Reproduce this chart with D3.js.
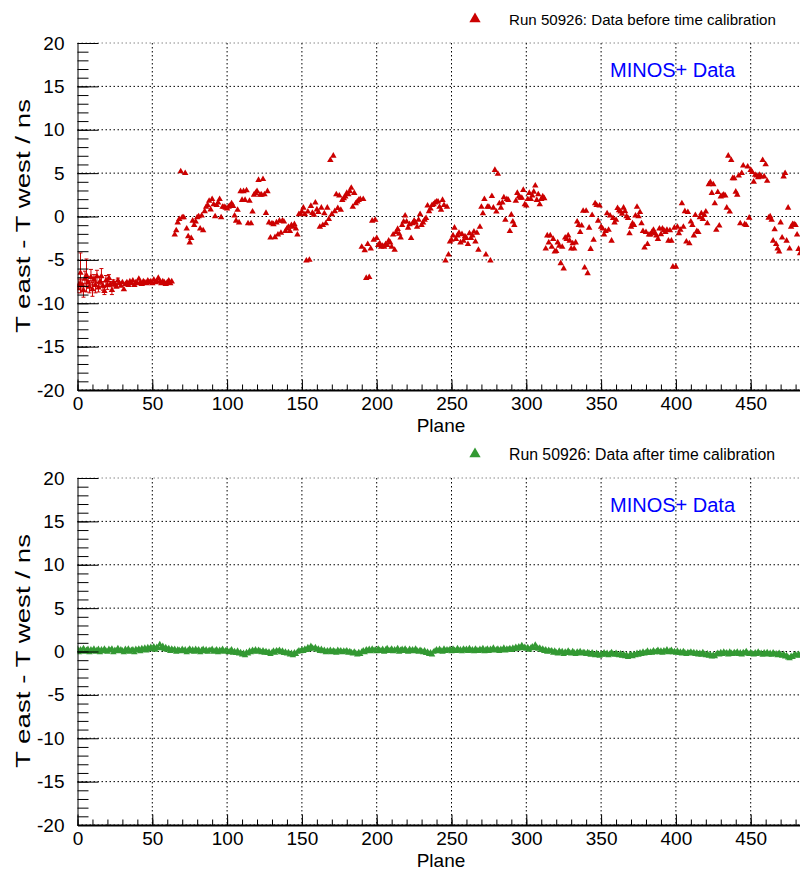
<!DOCTYPE html>
<html>
<head>
<meta charset="utf-8">
<script src="https://cdn.jsdelivr.net/npm/d3@7"></script>
<style>
  body { margin: 0; background: #fff; }
  svg { display: block; font-family: "Liberation Sans", Arial, Helvetica, sans-serif; }
</style>
</head>
<body>
<div id="chart"></div>
<script>
/* T east - T west per plane, run 50926 (index = plane number, null = no point) */
var beforeValues = [
  -8.3,-7.8,-6.5,-7.9,-8.5,-7.2,-6.8,-7.6,-8.1,-7.0,
  -8.4,-7.3,-7.9,-6.9,-8.2,-7.5,-6.9,-8.0,-8.6,-7.4,
  -7.9,-7.1,-7.8,-8.5,-7.6,-7.8,-8.1,-7.4,-7.7,-8.0,
  -7.6,-8.4,-7.8,-7.6,-7.9,-7.5,-7.7,-7.4,-7.9,-7.6,
  -7.7,-7.2,-7.6,-7.8,-7.5,-7.6,-7.7,-7.4,-7.6,-7.5,
  -7.7,-7.3,-7.6,-7.5,-7.1,-7.5,-7.7,-7.5,-7.6,-7.8,
  -7.6,-7.4,-7.7,-7.5,null,-2.1,-1.6,-0.7,-0.3,5.2,
  -0.1,-0.1,5.0,-1.4,-2.3,-3.0,-2.5,-0.5,-1.0,-0.6,
  -0.1,0.0,-1.4,0.1,-1.6,0.6,1.1,1.3,1.8,0.8,
  2.0,1.4,0.0,1.3,1.6,2.0,-0.1,1.1,1.1,1.0,
  0.9,1.1,1.25,1.5,1.2,0.1,-0.5,0.75,-0.7,2.9,
  1.9,2.9,1.9,3.0,-0.8,1.8,-0.8,0.55,2.5,2.7,
  2.9,4.2,2.5,2.5,4.3,2.55,0.4,2.9,-0.7,-2.45,
  -0.8,-0.9,-2.4,-0.7,-2.1,-0.5,-1.9,-0.5,-0.6,-1.7,
  -1.4,-1.2,-1.7,-1.0,-1.2,-0.9,-1.4,-2.1,0.25,0.3,
  0.55,1.0,0.25,-5.1,0.55,-5.0,1.2,0.4,0.2,1.6,
  0.8,0.5,-1.2,1.0,-1.0,0.35,-0.8,1.0,-0.3,6.5,
  0.25,7.0,0.6,2.55,0.95,2.4,0.75,1.9,2.1,2.3,
  2.7,2.55,2.9,3.3,1.1,2.7,1.5,1.7,1.9,2.0,
  -3.5,2.0,-3.9,-7.1,-3.2,-7.0,-3.7,-0.5,-2.7,-0.4,
  -2.5,-3.3,-3.1,-3.5,-3.4,-3.5,-3.2,-3.3,-2.8,-3.0,
  -3.5,-2.1,-3.85,-1.8,-1.45,-2.0,-2.45,-1.0,-0.6,0.1,
  -0.6,-1.3,-0.9,-2.5,-0.8,-0.5,-0.7,-1.2,-0.4,0.25,
  -1.0,-0.7,-0.4,-0.2,1.25,0.6,0.9,1.3,1.4,1.6,
  1.7,1.7,1.1,0.75,1.9,1.3,-5.1,1.1,-4.4,-2.9,
  -2.7,-2.2,-1.3,-2.6,-2.2,-1.9,-3.0,-2.05,-2.8,-2.3,
  -2.5,-3.2,-1.95,-2.5,-2.2,-1.75,-2.9,-1.9,-3.85,-1.2,
  1.1,0.35,2.0,-4.4,1.1,1.1,-5.1,2.35,1.0,5.35,
  0.55,4.9,1.5,1.0,1.6,2.2,-0.4,2.0,1.9,-1.7,
  0.2,-0.6,-1.0,1.8,2.7,2.3,2.15,2.15,3.05,1.4,
  1.25,2.0,2.7,2.0,2.4,2.85,3.55,1.9,2.55,1.4,
  2.0,2.3,2.1,-3.7,-2.2,-3.0,-2.2,-3.5,-2.6,-4.05,
  -4.0,-3.0,-3.4,-5.4,-3.5,-6.0,-2.45,-2.6,-2.2,-2.8,
  -3.7,-3.1,-3.7,-3.0,-0.6,-1.0,-1.8,-1.05,0.65,-5.9,
  0.65,-6.55,-1.3,-3.75,0.15,-2.7,1.5,1.3,-0.5,1.25,
  -1.2,-1.4,-2.1,-1.7,0.35,-1.55,0.1,-2.8,-0.2,-0.7,
  -0.4,0.95,0.7,0.55,0.3,1.0,0.6,0.0,-0.2,-1.95,
  -1.2,-0.8,-1.0,0.1,1.1,0.0,0.5,-0.8,-1.7,-3.6,
  -1.8,-3.2,-2.1,-2.1,-1.8,-1.55,-1.95,-2.2,-2.6,-1.4,
  -2.05,-1.4,-1.6,-1.8,-1.55,-2.8,-1.6,-2.8,-5.8,-1.3,
  -5.8,-1.2,-1.95,-1.55,1.5,-1.2,0.6,-2.9,0.5,-3.1,
  -0.6,-1.0,-2.2,0.15,-1.7,-1.8,-0.1,0.35,-0.3,0.15,
  0.55,-0.8,3.7,3.95,2.7,3.7,1.5,-1.55,2.8,-1.05,
  2.3,2.4,2.5,2.4,1.0,7.0,0.55,6.5,4.4,4.4,
  2.85,2.5,4.7,-0.8,5.0,5.85,-0.9,-1.0,5.75,-0.15,
  5.35,5.1,4.0,4.8,4.7,4.5,4.8,4.6,6.5,4.6,
  6.0,4.1,-0.15,0.0,-0.4,-2.8,-1.5,-3.2,-3.7,-4.05,
  -0.7,-2.45,4.6,5.0,-2.8,1.0,-3.7,-1.2,-0.9,-0.9,
  -1.0,-2.1,-3.75,-4.25
];
/* error bars, only the first planes have visible ones */
var beforeErrors = [
  0.5,0.6,2.3,0.7,0.8,0.9,1.9,0.6,0.7,0.9,
  0.8,0.6,0.9,0.7,0.5,0.6,0.9,0.5,0.4,0.6,
  0.5,0.4,0.3,0.5,0.3,0.3,0.2,0.3,0.2,0.2
];

var afterValues = [
  0.3,-0.1,0.2,0.05,0.35,-0.05,0.15,0.25,-0.1,0.2,
  0.05,0.3,-0.05,0.15,0.25,-0.1,0.2,0.0,0.3,0.1,
  -0.05,0.25,0.1,0.3,-0.1,0.15,0.05,0.35,0.0,0.2,
  0.1,-0.1,0.25,0.05,0.3,-0.05,0.15,0.2,-0.1,0.25,
  0.1,0.3,0.0,0.35,0.15,0.4,0.1,0.45,0.25,0.5,
  0.3,0.55,0.2,0.5,0.35,0.8,0.4,0.6,0.25,0.45,
  0.2,0.35,0.05,0.3,0.1,0.25,-0.05,0.2,0.15,0.0,
  0.25,0.05,0.2,-0.1,0.15,0.3,0.0,0.2,-0.05,0.25,
  0.05,0.2,-0.1,0.15,0.25,0.0,0.2,-0.05,0.15,0.1,
  0.25,-0.05,0.1,0.2,-0.1,0.15,0.05,0.25,-0.05,0.1,
  0.15,-0.1,0.05,0.2,-0.15,0.0,-0.2,0.05,-0.25,-0.1,
  -0.35,-0.2,-0.45,-0.1,-0.25,0.05,-0.1,0.15,0.0,0.2,
  -0.05,0.15,0.05,-0.1,0.1,-0.15,0.0,-0.2,-0.05,-0.3,
  -0.1,0.05,-0.15,0.1,0.0,0.15,-0.1,0.05,-0.2,-0.05,
  -0.25,-0.1,-0.35,-0.2,-0.45,-0.15,-0.3,-0.05,0.1,0.0,
  0.2,0.05,0.3,0.15,0.45,0.25,0.6,0.4,0.3,0.45,
  0.2,0.3,0.05,0.25,0.0,0.15,-0.1,0.1,-0.05,0.15,
  -0.1,0.1,0.0,-0.15,0.15,-0.05,0.1,-0.1,0.05,-0.05,
  0.1,-0.15,0.0,-0.1,-0.25,-0.05,-0.2,-0.35,-0.1,-0.3,
  -0.05,0.1,-0.1,0.2,0.05,0.25,0.0,0.3,0.1,0.2,
  0.0,0.3,0.15,0.05,0.25,-0.05,0.2,0.35,0.05,0.15,
  0.3,0.0,0.2,0.1,0.35,-0.05,0.15,0.25,0.05,0.3,
  0.1,-0.05,0.25,0.05,0.2,0.0,0.3,0.1,-0.05,0.15,
  0.05,-0.1,0.1,-0.2,-0.05,-0.3,-0.15,-0.35,-0.05,0.05,
  0.2,0.0,0.25,0.1,-0.05,0.3,0.05,0.2,0.1,0.25,
  0.0,0.3,0.15,0.05,0.35,0.1,0.2,0.0,0.3,0.15,
  0.25,0.05,0.35,0.1,0.2,0.0,0.3,0.15,0.05,0.25,
  0.1,0.35,0.0,0.2,0.3,0.05,0.25,0.15,0.4,0.1,
  0.2,0.3,0.05,0.25,0.15,0.4,0.1,0.3,0.2,0.35,
  0.15,0.4,0.25,0.5,0.3,0.55,0.35,0.7,0.4,0.5,
  0.3,0.45,0.2,0.4,0.55,0.35,0.75,0.45,0.3,0.4,
  0.15,0.3,0.05,0.2,-0.05,0.15,0.0,0.1,-0.15,0.05,
  -0.1,-0.25,0.05,-0.15,0.0,-0.3,-0.05,-0.2,0.05,-0.1,
  -0.25,0.0,-0.15,-0.3,-0.05,-0.2,0.0,-0.25,-0.1,-0.15,
  -0.3,-0.1,-0.2,-0.4,-0.15,-0.3,-0.45,-0.2,-0.35,-0.5,
  -0.25,-0.4,-0.15,-0.35,-0.2,-0.45,-0.25,-0.1,-0.3,-0.4,
  -0.2,-0.35,-0.45,-0.25,-0.5,-0.3,-0.55,-0.4,-0.65,-0.45,
  -0.35,-0.55,-0.3,-0.45,-0.2,-0.4,-0.15,-0.3,-0.05,-0.25,
  -0.1,0.05,-0.2,-0.05,-0.15,0.1,-0.1,0.0,0.15,-0.1,
  0.05,-0.15,0.1,-0.05,0.2,-0.1,0.05,0.15,-0.1,0.0,
  -0.15,0.05,-0.2,-0.05,-0.25,0.0,-0.15,-0.3,-0.1,-0.2,
  -0.05,-0.25,-0.1,-0.3,-0.15,-0.35,-0.2,-0.4,-0.1,-0.3,
  -0.45,-0.25,-0.5,-0.35,-0.6,-0.4,-0.55,-0.3,-0.2,-0.35,
  -0.1,-0.3,-0.05,-0.25,-0.15,-0.35,-0.05,-0.2,-0.3,-0.1,
  -0.25,-0.05,-0.3,-0.15,-0.35,-0.1,-0.25,0.0,-0.2,-0.3,
  -0.1,-0.25,-0.35,-0.15,-0.3,-0.05,-0.25,-0.2,-0.4,-0.15,
  -0.3,-0.1,-0.35,-0.2,-0.4,-0.15,-0.3,-0.25,-0.45,-0.2,
  -0.35,-0.5,-0.3,-0.6,-0.45,-0.7,-0.8,-0.55,-0.65,-0.4,
  -0.35,-0.5,-0.3,-0.45
];

var yTicks = [-20, -15, -10, -5, 0, 5, 10, 15, 20];
var xTicks = [0, 50, 100, 150, 200, 250, 300, 350, 400, 450];

/* size of the graphic */
var width = 800;
var height = 871;
var left = 77.5;
var pxPerPlane = 1.496;
var xMax = 490;

var svg = d3.select("#chart")
  .append("svg")
    .attr("width", width)
    .attr("height", height);

var x = d3.scaleLinear()
  .domain([0, xMax])
  .range([left, left + pxPerPlane * xMax]);

var plain = d => String(d); // ROOT prints a hyphen, not a minus sign

function drawPanel(id, top, bottom, values, errors, color, legendText, legendSize) {
  var y = d3.scaleLinear().domain([-20, 20]).range([bottom, top]);
  var g = svg.append("g");

  /* dotted grid at the major ticks */
  g.append("g").selectAll("line").data(yTicks).join("line")
    .attr("x1", left).attr("x2", width)
    .attr("y1", d => y(d)).attr("y2", d => y(d))
    .attr("stroke", d => d === 20 ? "#888" : "#000")
    .attr("stroke-width", 1)
    .attr("stroke-dasharray", "1.5,2.5");
  g.append("g").selectAll("line").data(xTicks.filter(d => d > 0)).join("line")
    .attr("x1", d => x(d)).attr("x2", d => x(d))
    .attr("y1", top).attr("y2", bottom)
    .attr("stroke", "#000")
    .attr("stroke-width", 1)
    .attr("stroke-dasharray", "1.5,2.5");

  /* clip data to the frame */
  svg.append("clipPath").attr("id", id)
    .append("rect")
      .attr("x", left).attr("y", top)
      .attr("width", width - left).attr("height", bottom - top);

  var pts = values.map((v, i) => ({ plane: i, v: v, e: errors[i] || 0 }))
    .filter(d => d.v !== null);

  var data = g.append("g").attr("clip-path", "url(#" + id + ")");

  // error bars with small caps
  var eb = data.append("g").attr("stroke", color).attr("stroke-width", 1);
  pts.filter(d => d.e > 0.25).forEach(function(d) {
    eb.append("line")
      .attr("x1", x(d.plane)).attr("x2", x(d.plane))
      .attr("y1", y(d.v - d.e)).attr("y2", y(d.v + d.e));
    [d.v - d.e, d.v + d.e].forEach(function(t) {
      eb.append("line")
        .attr("x1", x(d.plane) - 2).attr("x2", x(d.plane) + 2)
        .attr("y1", y(t)).attr("y2", y(t));
    });
  });

  data.append("g").selectAll("path").data(pts).join("path")
    .attr("d", d3.symbol().type(d3.symbolTriangle).size(18))
    .attr("transform", d => "translate(" + x(d.plane) + "," + y(d.v) + ")")
    .attr("fill", color);

  /* axes, ticks pointing inside the frame */
  g.append("g")
    .attr("transform", "translate(" + left + ",0)")
    .call(d3.axisLeft(y).tickValues(yTicks).tickFormat(plain)
      .tickSize(-21).tickSizeOuter(0).tickPadding(13));
  g.append("g")
    .attr("transform", "translate(" + left + ",0)")
    .call(d3.axisLeft(y).tickValues(d3.range(-20, 21, 1)).tickSize(-11).tickSizeOuter(0).tickFormat(""))
    .select(".domain").remove();

  var xAxis = g.append("g")
    .attr("transform", "translate(0," + bottom + ")")
    .call(d3.axisBottom(x).tickValues(xTicks).tickFormat(plain)
      .tickSize(-10.5).tickSizeOuter(0).tickPadding(7));
  g.append("g")
    .attr("transform", "translate(0," + bottom + ")")
    .call(d3.axisBottom(x).tickValues(d3.range(0, xMax + 1, 10)).tickSize(-5.5).tickSizeOuter(0).tickFormat(""))
    .select(".domain").remove();

  xAxis.select(".domain").attr("stroke-width", 2);
  g.selectAll(".tick text")
    .attr("fill", "#000")
    .style("font-size", "19px")
    .style("font-family", "'Liberation Sans', Arial, sans-serif");

  /* axis titles */
  g.append("text")
    .attr("x", 441).attr("y", bottom + 42)
    .attr("text-anchor", "middle")
    .style("font-size", "19px")
    .text("Plane");
  g.append("text")
    .attr("transform", "translate(30," + (top + 173) + ") rotate(-90)")
    .attr("text-anchor", "middle")
    .attr("textLength", 234)
    .attr("lengthAdjust", "spacingAndGlyphs")
    .style("font-size", "20px")
    .text("T east - T west / ns");

  /* legend and label */
  g.append("path")
    .attr("d", d3.symbol().type(d3.symbolTriangle).size(55))
    .attr("transform", "translate(475," + (top - 24) + ")")
    .attr("fill", color);
  g.append("text")
    .attr("x", 509).attr("y", top - 18)
    .style("font-size", legendSize + "px")
    .text(legendText);
  g.append("text")
    .attr("x", 610).attr("y", top + 34)
    .attr("fill", "#0000ff")
    .style("font-size", "20px")
    .text("MINOS+ Data");
}

drawPanel("clipTop", 43, 390, beforeValues, beforeErrors, "#cc0000",
  "Run 50926: Data before time calibration", 15.1);
drawPanel("clipBottom", 478, 825, afterValues, [], "#339933",
  "Run 50926: Data after time calibration", 15.8);
</script>
</body>
</html>
